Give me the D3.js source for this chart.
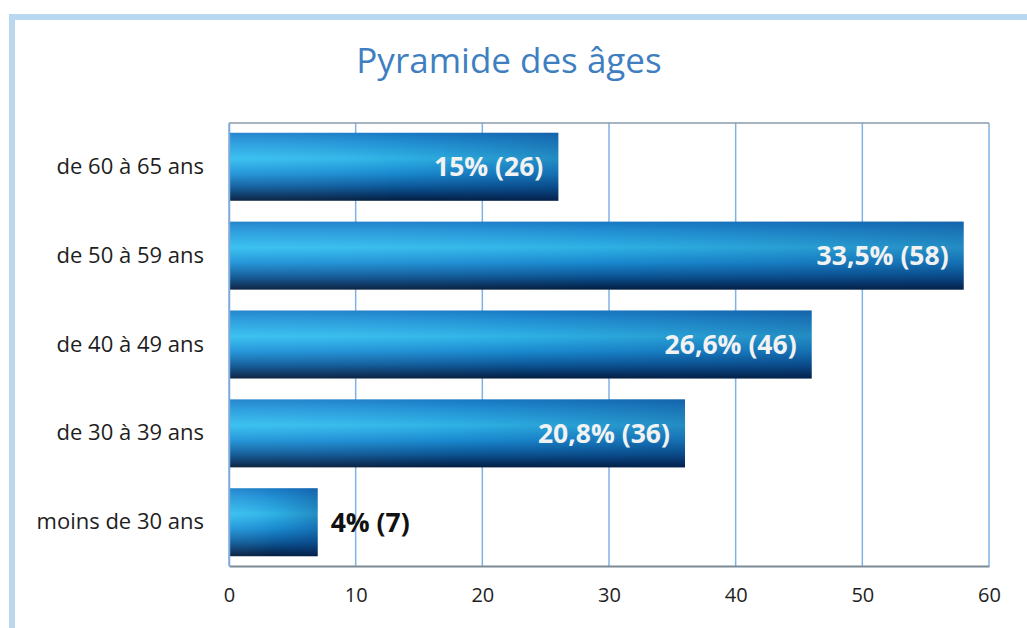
<!DOCTYPE html>
<html>
<head>
<meta charset="utf-8">
<script src="https://cdn.jsdelivr.net/npm/d3@7"></script>
<style>
  html, body { margin: 0; padding: 0; background: #ffffff; }
  svg { display: block; }
</style>
</head>
<body>
<svg id="chart" width="1027" height="628"></svg>
<script>
const categories = ["de 60 à 65 ans", "de 50 à 59 ans", "de 40 à 49 ans", "de 30 à 39 ans", "moins de 30 ans"];
const counts = [26, 58, 46, 36, 7];
const valueLabels = ["15% (26)", "33,5% (58)", "26,6% (46)", "20,8% (36)", "4% (7)"];
const tickValues = [0, 10, 20, 30, 40, 50, 60];
const title = "Pyramide des âges";

const FONT = "'Open Sans', Lato, sans-serif";
const svg = d3.select("#chart");
const W = 1027, H = 628;
const margin = { left: 229, right: 1027 - 989, top: 123, bottom: 628 - 566 };

// outer frame
svg.append("rect")
  .attr("x", 12).attr("y", 17)
  .attr("width", W + 20).attr("height", H + 20)
  .attr("fill", "none")
  .attr("stroke", "#bad7f0")
  .attr("stroke-width", 6);

const defs = svg.append("defs");
const g1 = defs.append("linearGradient").attr("id", "barV")
  .attr("x1", 0).attr("y1", 0).attr("x2", 0).attr("y2", 1);
[[0, "#1a7fcb"], [0.12, "#2396da"], [0.38, "#32bff0"], [0.6, "#1c92d8"], [0.8, "#0c5a99"], [0.93, "#052f5c"], [1, "#021a36"]]
  .forEach(([o, c]) => g1.append("stop").attr("offset", o).attr("stop-color", c));
const g2 = defs.append("linearGradient").attr("id", "barH")
  .attr("x1", 0).attr("y1", 0).attr("x2", 1).attr("y2", 0);
g2.append("stop").attr("offset", 0).attr("stop-color", "#ffffff").attr("stop-opacity", 0.05);
g2.append("stop").attr("offset", 0.5).attr("stop-color", "#0a3a80").attr("stop-opacity", 0.1);
g2.append("stop").attr("offset", 1).attr("stop-color", "#08306e").attr("stop-opacity", 0.35);

const x = d3.scaleLinear().domain([0, 60]).range([margin.left, W - margin.right]);
const y = d3.scaleBand().domain(categories).range([margin.top, H - margin.bottom]).paddingInner(0.235).paddingOuter(0.11);

// gridlines
svg.append("g").selectAll("line").data(tickValues).join("line")
  .attr("x1", d => x(d)).attr("x2", d => x(d))
  .attr("y1", margin.top).attr("y2", H - margin.bottom)
  .attr("stroke", "#7fb3e3").attr("stroke-width", 1.5);

// top border
svg.append("line")
  .attr("x1", x(0)).attr("x2", x(60))
  .attr("y1", margin.top).attr("y2", margin.top)
  .attr("stroke", "#8a9aa8").attr("stroke-width", 1.5);

// bars
const bars = svg.append("g");
bars.selectAll("rect.b").data(categories).join("rect").attr("class", "b")
  .attr("x", x(0)).attr("y", d => y(d))
  .attr("width", (d, i) => x(counts[i]) - x(0))
  .attr("height", y.bandwidth())
  .attr("fill", "url(#barV)");
bars.selectAll("rect.o").data(categories).join("rect").attr("class", "o")
  .attr("x", x(0)).attr("y", d => y(d))
  .attr("width", (d, i) => x(counts[i]) - x(0))
  .attr("height", y.bandwidth())
  .attr("fill", "url(#barH)");

// x axis
const xAxis = svg.append("g")
  .attr("transform", `translate(0,${H - margin.bottom})`)
  .call(d3.axisBottom(x).tickValues(tickValues).tickSize(0).tickPadding(22));
xAxis.select(".domain").attr("stroke", "#7a8a96").attr("stroke-width", 2);
xAxis.selectAll("text").attr("font-family", FONT).attr("font-size", 20).attr("fill", "#1e1e1e");

// y axis
const yAxis = svg.append("g")
  .attr("transform", `translate(${margin.left},0)`)
  .call(d3.axisLeft(y).tickSize(0).tickPadding(25));
yAxis.select(".domain").attr("stroke", "#7fa9d6").attr("stroke-width", 1.5);
yAxis.selectAll("text").attr("font-family", FONT).attr("font-size", 22).attr("fill", "#1e1e1e");

// value labels
svg.append("g").selectAll("text").data(categories).join("text")
  .attr("x", (d, i) => counts[i] > 15 ? x(counts[i]) - 15 : x(counts[i]) + 13)
  .attr("y", d => y(d) + y.bandwidth() / 2)
  .attr("dy", "0.35em")
  .attr("text-anchor", (d, i) => counts[i] > 15 ? "end" : "start")
  .attr("font-family", FONT).attr("font-weight", "bold").attr("font-size", 26.5)
  .attr("fill", (d, i) => counts[i] > 15 ? "#f2f2f2" : "#111")
  .text((d, i) => valueLabels[i]);

// title
svg.append("text")
  .attr("x", 509).attr("y", 73)
  .attr("text-anchor", "middle")
  .attr("font-family", FONT).attr("font-size", 35)
  .attr("fill", "#3f7fc1")
  .text(title);
</script>
</body>
</html>
